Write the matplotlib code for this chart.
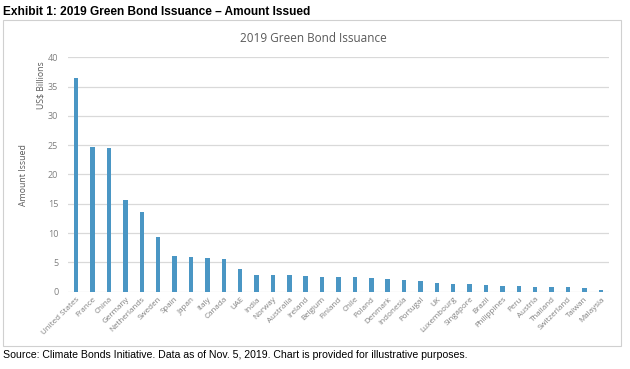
import matplotlib.pyplot as plt
import matplotlib.patches as mpatches
import numpy as np

# Datos
paises = ['United States', 'France', 'China', 'Germany', 'Netherlands', 'Sweden',
          'Spain', 'Japan', 'Italy', 'Canada', 'UAE', 'India', 'Norway', 'Australia',
          'Ireland', 'Belgium', 'Finland', 'Chile', 'Poland', 'Denmark', 'Indonesia',
          'Portugal', 'UK', 'Luxembourg', 'Singapore', 'Brazil', 'Philippines', 'Peru',
          'Austria', 'Thailand', 'Switzerland', 'Taiwan', 'Malaysia']
montos = [36.5, 24.75, 24.45, 15.6, 13.55, 9.35, 6.05, 6.0, 5.8, 5.65, 3.8, 2.9, 2.9,
          2.9, 2.67, 2.56, 2.5, 2.45, 2.33, 2.2, 2.0, 1.88, 1.54, 1.25, 1.25, 1.14,
          0.97, 0.97, 0.8, 0.74, 0.74, 0.57, 0.23]
y_ticks = [0, 5, 10, 15, 20, 25, 30, 35, 40]

plt.rcParams['font.family'] = ['Liberation Sans', 'DejaVu Sans']

GRIS = '#7F7F7F'
AZUL = '#4A96C4'

fig = plt.figure(figsize=(6.3, 3.69), dpi=100)
fig.patch.set_facecolor('white')

# Marco del gráfico
marco = mpatches.Rectangle((3 / 630, 1 - 346 / 369), 618 / 630, 326 / 369,
                           transform=fig.transFigure, fill=False,
                           edgecolor='#D0D0D0', linewidth=0.8)
fig.patches.append(marco)

ax = fig.add_axes([68 / 630, 1 - 291.7 / 369, 541 / 630, 234.4 / 369])
x = np.arange(len(paises))
ax.bar(x, montos, width=0.27, color=AZUL, zorder=3)

ax.set_xlim(-0.5, len(paises) - 0.5)
ax.set_ylim(0, 40)
ax.set_yticks(y_ticks)
ax.set_yticklabels([str(t) for t in y_ticks], fontsize=6.5, color=GRIS,
                   family=['Open Sans', 'DejaVu Sans'])
ax.set_xticks(x)
ax.set_xticklabels(paises, rotation=45, ha='right', va='top', fontsize=5.8,
                   color=GRIS, rotation_mode='anchor',
                   family=['Open Sans', 'DejaVu Sans'])
ax.tick_params(axis='both', length=0, pad=3)
ax.tick_params(axis='y', pad=7)
ax.grid(axis='y', color='#D9D9D9', linewidth=0.9, zorder=0)
for s in ax.spines.values():
    s.set_visible(False)

# Textos
fig.text(3 / 630, 1 - 12 / 369, 'Exhibit 1: 2019 Green Bond Issuance \u2013 Amount Issued',
         fontsize=8.6, fontweight='bold', ha='left', va='center',
         family=['Liberation Sans Narrow', 'Liberation Sans'])
fig.text(313 / 630, 1 - 38 / 369, '2019 Green Bond Issuance', fontsize=8.5,
         color='#595959', ha='center', va='center', family=['Open Sans', 'DejaVu Sans'])
fig.text(23 / 630, 1 - 175 / 369, 'Amount Issued', fontsize=6.3, color='#595959',
         rotation=90, ha='center', va='center', family=['Open Sans', 'DejaVu Sans'])
fig.text(41 / 630, 1 - 85 / 369, 'US$ Billions', fontsize=6.3, color='#595959',
         rotation=90, ha='center', va='center', family=['Open Sans', 'DejaVu Sans'])
fig.text(3 / 630, 1 - 355 / 369,
         'Source: Climate Bonds Initiative. Data as of Nov. 5, 2019. Chart is provided for illustrative purposes.',
         fontsize=7.6, ha='left', va='center',
         family=['Liberation Sans Narrow', 'Liberation Sans'])

fig.savefig('out.png', dpi=100, facecolor='white')
